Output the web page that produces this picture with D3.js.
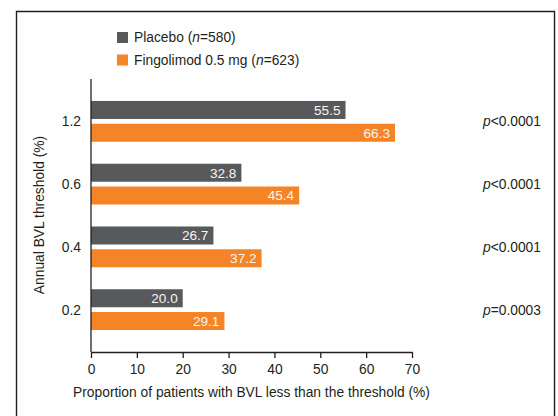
<!DOCTYPE html>
<html>
<head>
<meta charset="utf-8">
<script src="https://cdn.jsdelivr.net/npm/d3@7"></script>
<style>
  html, body { margin: 0; padding: 0; background: #fff; }
  svg { display: block; font-family: "Liberation Sans", Arial, sans-serif; }
</style>
</head>
<body>
<svg id="chart" width="558" height="416"></svg>
<script>
// Annual brain volume loss thresholds (%), top to bottom
const thresholds = ["1.2", "0.6", "0.4", "0.2"];
const seriesNames = ["Placebo", "Fingolimod 0.5 mg"];
const seriesN = [580, 623];
const placeboValues = [55.5, 32.8, 26.7, 20.0];
const fingolimodValues = [66.3, 45.4, 37.2, 29.1];
const pValues = ["<0.0001", "<0.0001", "<0.0001", "=0.0003"];
const xTicks = [0, 10, 20, 30, 40, 50, 60, 70];

const colors = ["#58595b", "#f58426"];
const textColor = "#231f20";
const fs = 13.8;

const svg = d3.select("#chart");

// Outer frame (bottom edge runs off the canvas)
svg.append("path")
  .attr("d", "M16.5,430 V11.5 H554.5 V430")
  .attr("fill", "none")
  .attr("stroke", "#231f20")
  .attr("stroke-width", 1.4);

const plot = { left: 91, right: 412, top: 79, bottom: 352 };

const x = d3.scaleLinear().domain([0, 70]).range([plot.left, plot.right]);
const y = d3.scaleBand().domain(thresholds).range([plot.top, plot.bottom])
  .paddingInner(0.35).paddingOuter(0.35);
const ySub = d3.scaleBand().domain([0, 1]).range([0, y.bandwidth()]).paddingInner(0.21);

const rows = thresholds.map((t, i) => ({
  t, p: pValues[i], vals: [placeboValues[i], fingolimodValues[i]]
}));

const groups = svg.append("g").selectAll("g").data(rows).join("g")
  .attr("transform", d => `translate(0,${y(d.t)})`);

groups.selectAll("rect").data(d => d.vals).join("rect")
  .attr("x", x(0))
  .attr("y", (d, i) => ySub(i))
  .attr("width", d => x(d) - x(0))
  .attr("height", ySub.bandwidth())
  .attr("fill", (d, i) => colors[i]);

groups.selectAll("text.val").data(d => d.vals).join("text")
  .attr("class", "val")
  .attr("x", d => x(d) - 5)
  .attr("y", (d, i) => ySub(i) + ySub.bandwidth() / 2)
  .attr("dy", "0.36em")
  .attr("text-anchor", "end")
  .attr("font-size", 13.6)
  .attr("fill", "#f4f4f4")
  .text(d => d.toFixed(1));

// Category labels
groups.append("text")
  .attr("x", plot.left - 10)
  .attr("y", y.bandwidth() / 2)
  .attr("dy", "0.36em")
  .attr("text-anchor", "end")
  .attr("font-size", fs)
  .attr("fill", textColor)
  .text(d => d.t);

// p-values
const pText = groups.append("text")
  .attr("x", 483)
  .attr("y", y.bandwidth() / 2)
  .attr("dy", "0.36em")
  .attr("font-size", fs)
  .attr("fill", textColor);
pText.append("tspan").attr("font-style", "italic").text("p");
pText.append("tspan").text(d => d.p);

// Y axis line (no ticks)
svg.append("line")
  .attr("x1", plot.left).attr("x2", plot.left)
  .attr("y1", plot.top).attr("y2", plot.bottom)
  .attr("stroke", textColor).attr("stroke-width", 1.3);

// X axis
const xAxis = svg.append("g")
  .attr("transform", `translate(0,${plot.bottom})`)
  .call(d3.axisBottom(x).tickValues(xTicks).tickSize(6).tickPadding(6).tickSizeOuter(0));
xAxis.select(".domain").attr("stroke", textColor).attr("stroke-width", 1.3);
xAxis.selectAll(".tick line").attr("stroke", textColor).attr("stroke-width", 1.3);
xAxis.selectAll(".tick text")
  .attr("font-size", fs)
  .attr("font-family", "Liberation Sans, Arial, sans-serif")
  .attr("fill", textColor);

// Axis titles
svg.append("text")
  .attr("x", (plot.left + plot.right) / 2)
  .attr("y", 397)
  .attr("text-anchor", "middle")
  .attr("font-size", fs)
  .attr("fill", textColor)
  .text("Proportion of patients with BVL less than the threshold (%)");

svg.append("text")
  .attr("transform", "translate(44,215) rotate(-90)")
  .attr("text-anchor", "middle")
  .attr("font-size", fs)
  .attr("fill", textColor)
  .text("Annual BVL threshold (%)");

// Legend
const legend = svg.append("g").selectAll("g").data(seriesNames).join("g")
  .attr("transform", (d, i) => `translate(117,${32 + i * 22.5})`);
legend.append("rect")
  .attr("width", 11).attr("height", 11)
  .attr("fill", (d, i) => colors[i]);
const lt = legend.append("text")
  .attr("x", 17).attr("y", 5.5).attr("dy", "0.36em")
  .attr("font-size", fs)
  .attr("fill", textColor);
lt.append("tspan").text(d => d + " (");
lt.append("tspan").attr("font-style", "italic").text("n");
lt.append("tspan").text((d, i) => "=" + seriesN[i] + ")");
</script>
</body>
</html>
